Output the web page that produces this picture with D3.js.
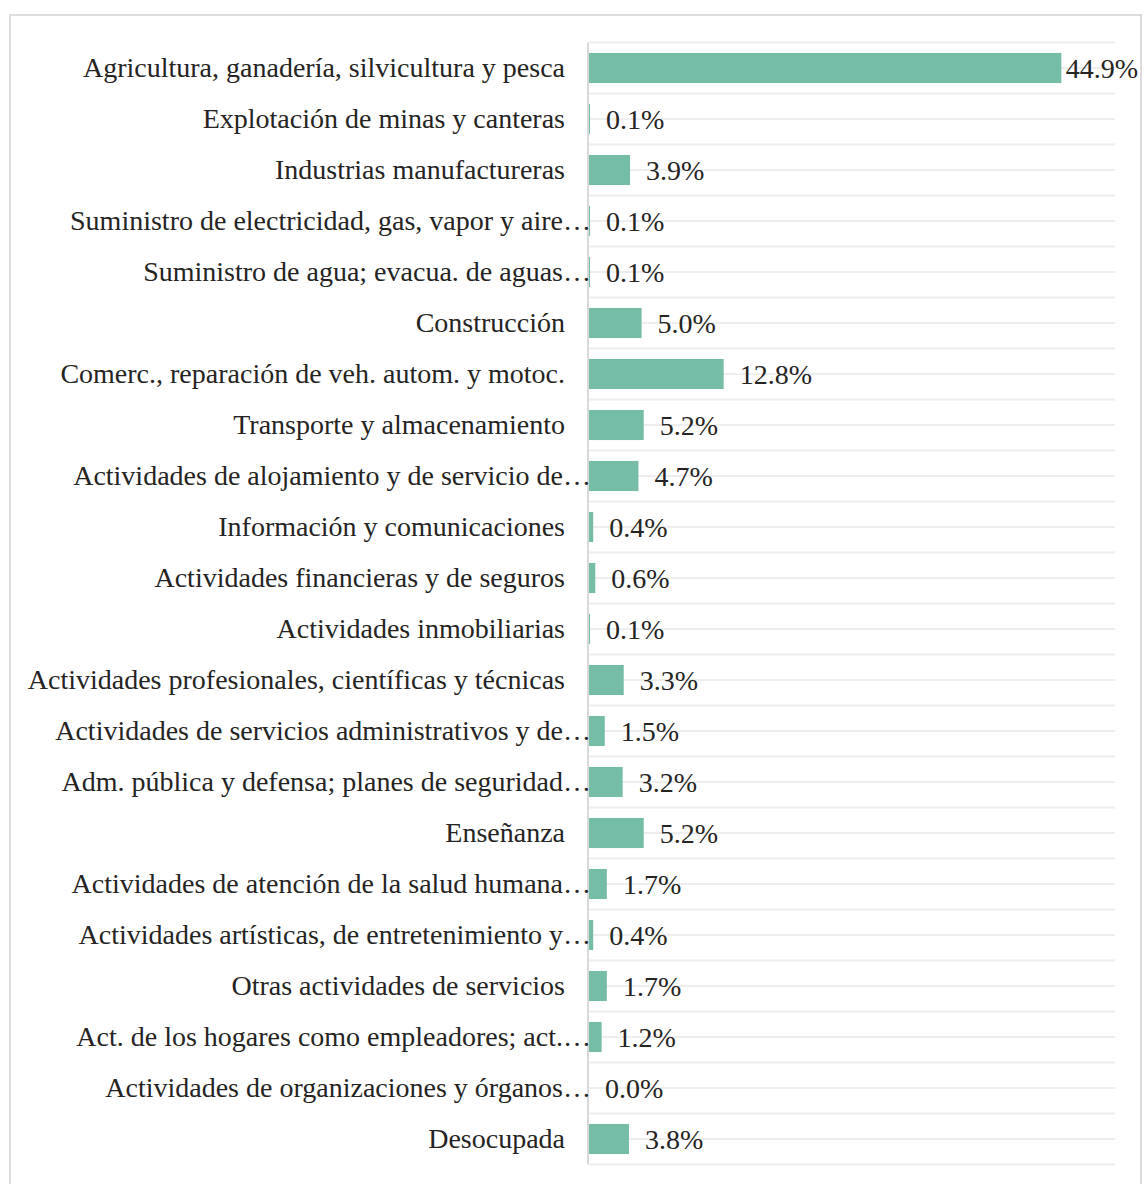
<!DOCTYPE html>
<html>
<head>
<meta charset="utf-8">
<script src="https://cdn.jsdelivr.net/npm/d3@7"></script>
<style>
  html, body { margin: 0; padding: 0; background: #ffffff; }
  svg { display: block; }
</style>
</head>
<body>
<div id="chart"></div>
<script>
// Distribución de la población ocupada por rama de actividad (%)
const categories = [
  "Agricultura, ganadería, silvicultura y pesca",
  "Explotación de minas y canteras",
  "Industrias manufactureras",
  "Suministro de electricidad, gas, vapor y aire…",
  "Suministro de agua; evacua. de aguas…",
  "Construcción",
  "Comerc., reparación de veh. autom. y motoc.",
  "Transporte y almacenamiento",
  "Actividades de alojamiento y de servicio de…",
  "Información y comunicaciones",
  "Actividades financieras y de seguros",
  "Actividades inmobiliarias",
  "Actividades profesionales, científicas y técnicas",
  "Actividades de servicios administrativos y de…",
  "Adm. pública y defensa; planes de seguridad…",
  "Enseñanza",
  "Actividades de atención de la salud humana…",
  "Actividades artísticas, de entretenimiento y…",
  "Otras actividades de servicios",
  "Act. de los hogares como empleadores; act.…",
  "Actividades de organizaciones y órganos…",
  "Desocupada"
];
const values = [44.9, 0.1, 3.9, 0.1, 0.1, 5.0, 12.8, 5.2, 4.7, 0.4, 0.6, 0.1, 3.3, 1.5, 3.2, 5.2, 1.7, 0.4, 1.7, 1.2, 0.0, 3.8];
const valueDomain = [0, 50];

const W = 1146, H = 1184;
const plot = { left: 589, right: 1115, top: 42.5, bottom: 1164.5 };
const labelEnd = 565;
const valueLimit = 1138;
const barColor = "#76bda7";
const textColor = "#252423";
const fontFamily = "'Liberation Serif', 'Times New Roman', serif";
const fontSize = 28;

const svg = d3.select("#chart").append("svg")
  .attr("width", W).attr("height", H);

// outer frame
svg.append("rect")
  .attr("x", 10).attr("y", 15)
  .attr("width", 1131).attr("height", H + 20)
  .attr("fill", "#ffffff")
  .attr("stroke", "#dcdcdc").attr("stroke-width", 2);

const x = d3.scaleLinear().domain(valueDomain).range([plot.left, plot.right]);
const y = d3.scaleBand().domain(categories)
  .range([plot.top, plot.bottom])
  .paddingInner(0.41).paddingOuter(0.205);

const step = y.step();
const bw = y.bandwidth();

// horizontal guide lines at band edges and band centres
const gridYs = [];
categories.forEach(c => {
  const mid = y(c) + bw / 2;
  gridYs.push(mid - step / 2, mid);
});
gridYs.push(y(categories[categories.length - 1]) + bw / 2 + step / 2);

svg.append("g").selectAll("line").data(gridYs).join("line")
  .attr("x1", plot.left).attr("x2", plot.right)
  .attr("y1", d => d).attr("y2", d => d)
  .attr("stroke", "#eeeeee").attr("stroke-width", 2);

// category axis line
svg.append("line")
  .attr("x1", plot.left - 1).attr("x2", plot.left - 1)
  .attr("y1", plot.top).attr("y2", plot.bottom)
  .attr("stroke", "#d9d9d9").attr("stroke-width", 2);

const rows = categories.map((c, i) => ({ c, v: values[i] }));

// bars
svg.append("g").selectAll("rect").data(rows).join("rect")
  .attr("x", x(0))
  .attr("y", d => y(d.c))
  .attr("width", d => x(d.v) - x(0))
  .attr("height", bw)
  .attr("fill", barColor);

// measure the ellipsis so truncated names keep their body aligned with the rest
const probe = svg.append("text")
  .attr("font-family", fontFamily).attr("font-size", fontSize).text("…");
const ellW = probe.node().getComputedTextLength();
probe.remove();

// category labels
svg.append("g").selectAll("text").data(rows).join("text")
  .attr("x", d => d.c.endsWith("…") ? labelEnd + ellW - 2 : labelEnd)
  .attr("y", d => y(d.c) + bw / 2)
  .attr("dy", "0.33em")
  .attr("text-anchor", "end")
  .attr("font-family", fontFamily)
  .attr("font-size", fontSize)
  .attr("fill", textColor)
  .text(d => d.c);

// value labels
const fmt = d3.format(".1f");
const vLabels = svg.append("g").selectAll("text").data(rows).join("text")
  .attr("y", d => y(d.c) + bw / 2)
  .attr("dy", "0.35em")
  .attr("font-family", fontFamily)
  .attr("font-size", fontSize)
  .attr("fill", textColor)
  .text(d => fmt(d.v) + "%");
vLabels.each(function(d) {
  const w = this.getComputedTextLength();
  const px = Math.min(x(d.v) + 16, valueLimit - w);
  d3.select(this).attr("x", px);
});
</script>
</body>
</html>
